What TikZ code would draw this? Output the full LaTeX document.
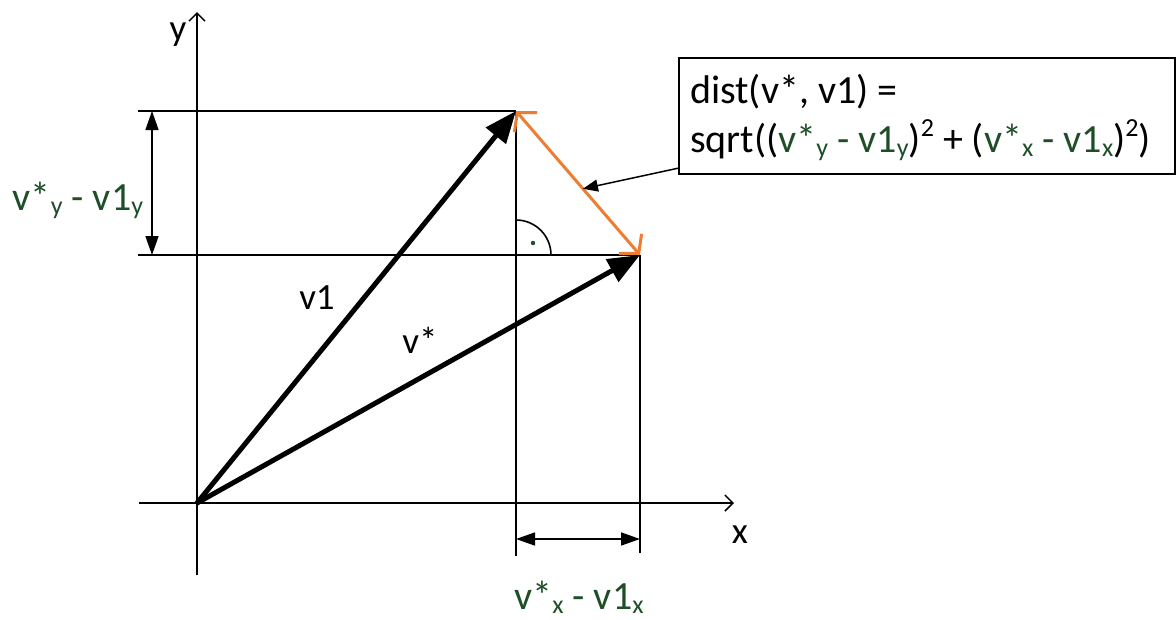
\documentclass[tikz,border=0pt]{standalone}
\usepackage{fontspec}
\setmainfont{Carlito}
\usetikzlibrary{arrows.meta,calc}
\definecolor{dg}{RGB}{30,78,40}
\definecolor{orng}{RGB}{237,125,49}
\newcommand\sbs[1]{\raisebox{-4pt}{\fontsize{26}{26}\selectfont #1}}
\newcommand\sps[1]{\raisebox{16pt}{\fontsize{26}{26}\selectfont #1}}
\begin{document}
\begin{tikzpicture}[x=1pt,y=-1pt,
  thin line/.style={line width=1.6pt,black},
  vec/.style={line width=5pt,-{Triangle[length=32pt,width=25pt]}},
  axisarrow/.style={line width=1.5pt,-{Straight Barb[length=8pt,width=16pt,line width=1.5pt]}},
  dimarrow/.style={line width=1.6pt,{Triangle[length=19pt,width=13pt]}-{Triangle[length=19pt,width=13pt]}},
  big/.style={font=\fontsize{40}{49}\selectfont},
  mid/.style={font=\fontsize{37}{44}\selectfont},
  lbl/.style={inner sep=0pt,anchor=base}]
\useasboundingbox (0,0) rectangle (1176,619);
% key points
\coordinate (O) at (197,503);
\coordinate (A) at (516,111);
\coordinate (B) at (640,255);
% axes
\coordinate (xs) at (139,503);
\coordinate (xe) at (734,503);
\coordinate (ys) at (197,575);
\coordinate (ye) at (197,12);
\draw[axisarrow] (xs) -- (xe);
\draw[axisarrow] (ys) -- (ye);
% helper lines
\coordinate (hA) at (138,111);
\coordinate (hB) at (138,255);
\coordinate (vA) at (516,556);
\coordinate (vB) at (640,553);
\draw[thin line] (hA) -- (A);
\draw[thin line] (hB) -- (B);
\draw[thin line] (A) -- (vA);
\draw[thin line] (B) -- (vB);
% dimension arrows
\coordinate (dy1) at (152,111);
\coordinate (dy2) at (152,255);
\draw[dimarrow] (dy1) -- (dy2);
\coordinate (dx1) at (516,539);
\coordinate (dx2) at (640,539);
\draw[dimarrow] (dx1) -- (dx2);
% right angle
\draw[thin line] (551,255) arc[start angle=0,end angle=-90,radius=35];
\fill[dg] (533,243) circle[radius=2.2];
% vectors
\draw[vec] (O) -- (A);
\draw[vec] (O) -- (B);
% distance
\draw[orng,line width=3pt,{Straight Barb[length=13pt,width=30pt,line width=3pt]}-{Straight Barb[length=13pt,width=30pt,line width=3pt]}] (A) -- (B);
% box
\node[draw,line width=2pt,minimum width=496pt,minimum height=116pt,anchor=north west,inner sep=0pt] (box) at (678,57) {};
\node[big,lbl,anchor=base west] (l1) at (690,103) {dist(v*, v1) =};
\node[big,lbl,anchor=base west] (l2) at (690,152) {sqrt((\textcolor{dg}{v*\sbs{y} - v1\sbs{y}})\sps{2} + (\textcolor{dg}{v*\sbs{x} - v1\sbs{x}})\sps{2})};
\coordinate (ps) at (679,168);
\coordinate (pm) at ($(A)!0.54!(B)$);
\draw[line width=1.5pt,-{Triangle[length=15pt,width=12pt]}] (ps) -- (pm);
% labels
\node[mid,lbl] (ylab) at (178,40) {y};
\node[mid,lbl] (xlab) at (740,543) {x};
\node[mid,lbl] (v1lab) at (317,309) {v1};
\node[mid,lbl] (vslab) at (420,353) {v*};
\node[big,lbl,text=dg] (dylab) at (78,210) {v*\sbs{y} - v1\sbs{y}};
\node[big,lbl,text=dg] (dxlab) at (579,609) {v*\sbs{x} - v1\sbs{x}};
\end{tikzpicture}
\end{document}
